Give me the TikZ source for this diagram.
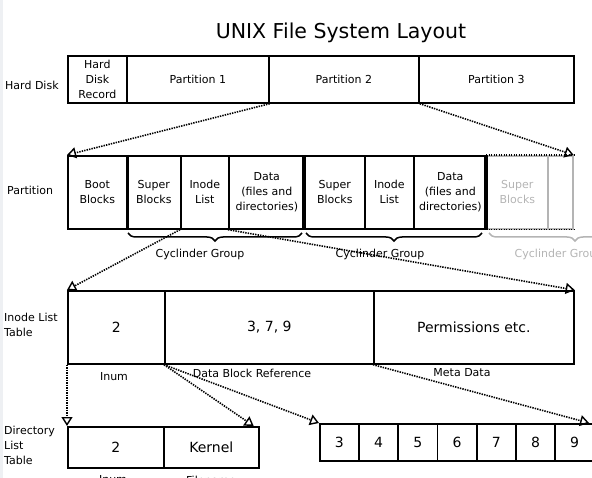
\documentclass[tikz,border=0pt]{standalone}
\usepackage{fontspec}
\setmainfont{DejaVu Sans}
\usepackage{xcolor}
\usepackage{tikz}
\usetikzlibrary{arrows.meta,decorations.pathreplacing}
\definecolor{fadegrey}{HTML}{B4B4B4}
\definecolor{stripgrey}{HTML}{EEF0F3}

\tikzset{
  cell/.style={draw, line width=1.7pt, anchor=north west, inner sep=0pt, align=center,
    font=\fontsize{11}{15}\selectfont},
  bigcell/.style={cell, font=\fontsize{14}{17}\selectfont},
  rowlabel/.style={anchor=west, align=left, inner sep=0pt, font=\fontsize{11}{15}\selectfont},
  sublabel/.style={inner sep=0pt, font=\fontsize{11}{15}\selectfont},
  pointer/.style={line width=1.6pt, dash pattern=on 1.4pt off 1.1pt,
    -{Triangle[open,length=9pt,width=11pt,line width=1.4pt]}},
  groupbrace/.style={decorate, decoration={brace, mirror, amplitude=8pt}, line width=1.5pt}
}

\begin{document}
\begin{tikzpicture}[x=1pt, y=-1pt]
      \useasboundingbox (0,0) rectangle (592,478);
      \fill[stripgrey] (0,0) rectangle (3,478);

      % Title
      \node (title) at (341,33) {\fontsize{20.5}{24}\selectfont UNIX File System Layout};

      % Hard disk row
      \node[rowlabel] (hdlabel) at (5,85) {Hard Disk};
      \node[cell, minimum width=59pt, minimum height=47pt] (hdr) at (67,55) {Hard\\Disk\\Record};
      \node[cell, minimum width=142pt, minimum height=47pt] (p1) at (126,55) {Partition 1};
      \node[cell, minimum width=150pt, minimum height=47pt] (p2) at (268,55) {Partition 2};
      \node[cell, minimum width=155pt, minimum height=47pt] (p3) at (418,55) {Partition 3};

      % Partition row
      \node[rowlabel] (partlabel) at (7,190) {Partition};
      \node[cell, minimum width=59pt, minimum height=73pt] (boot) at (67,155) {Boot\\Blocks};
      \node[cell, minimum width=54pt, minimum height=73pt] (sb1) at (126,155) {Super\\Blocks};
      \node[cell, minimum width=48pt, minimum height=73pt] (il1) at (180,155) {Inode\\List};
      \node[cell, minimum width=76pt, minimum height=73pt] (dat1) at (228,155) {Data\\(files and\\directories)};
      \node[cell, minimum width=60pt, minimum height=73pt] (sb2) at (304,155) {Super\\Blocks};
      \node[cell, minimum width=49pt, minimum height=73pt] (il2) at (364,155) {Inode\\List};
      \node[cell, minimum width=73pt, minimum height=73pt] (dat2) at (413,155) {Data\\(files and\\directories)};
      \node[cell, draw=fadegrey, text=fadegrey, minimum width=61pt, minimum height=73pt] (sb3) at (486,155) {Super\\Blocks};
      \node[cell, draw=fadegrey, minimum width=25pt, minimum height=73pt] (more) at (547,155) {};
      \draw[line width=1.6pt, dash pattern=on 1.4pt off 1.1pt] (sb3.north west) -- (more.north east);
      \draw[line width=1.6pt, dash pattern=on 1.4pt off 1.1pt] (sb3.south west) -- (more.south east);
      \draw[line width=3.2pt] (boot.north east) -- (boot.south east);
      \draw[line width=3.2pt] (sb2.north west) -- (sb2.south west);
      \draw[line width=3.2pt] (sb3.north west) -- (sb3.south west);

      % Cylinder groups
      \draw[groupbrace] (128,233) -- (302,233);
      \draw[groupbrace] (306,233) -- (482,233);
      \draw[groupbrace, draw=fadegrey] (489,233) -- (661,233);
      \node[sublabel] (cg1) at (200,254) {Cyclinder Group};
      \node[sublabel] (cg2) at (380,254) {Cyclinder Group};
      \node[sublabel, text=fadegrey] (cg3) at (559,254) {Cyclinder Group};

      % Inode list table
      \node[rowlabel] (inodelabel) at (4,325) {Inode List\\Table};
      \node[bigcell, minimum width=97pt, minimum height=73pt] (inum) at (67,290) {2};
      \node[bigcell, minimum width=209pt, minimum height=73pt] (dbr) at (164,290) {3, 7, 9};
      \node[bigcell, minimum width=200pt, minimum height=73pt] (meta) at (373,290) {Permissions etc.};
      \node[sublabel] (inumlbl) at (114,377) {Inum};
      \node[sublabel] (dbrlbl) at (252,373) {Data Block Reference};
      \node[sublabel] (metalbl) at (462,373) {Meta Data};

      % Directory list table
      \node[rowlabel] (dirlabel) at (4,445) {Directory\\List\\Table};
      \node[bigcell, minimum width=96pt, minimum height=41pt] (dinum) at (67,426) {2};
      \node[bigcell, minimum width=95pt, minimum height=41pt] (fname) at (163,426) {Kernel};
      \node[sublabel] (dinumlbl) at (113,480) {Inum};
      \node[sublabel] (fnamelbl) at (211,480) {Filename};

      % Data blocks
      \foreach \n [count=\i from 0] in {3,...,9}
        \node[bigcell, minimum width=39.2pt, minimum height=37pt] (b\n) at (319+39.2*\i,423) {\n};

      % Pointers
      \draw[pointer] (p1.south east) -- (boot.north west);
      \draw[pointer] (p2.south east) -- (more.north east);
      \draw[pointer] (il1.south west) -- (inum.north west);
      \draw[pointer] (dat1.south west) -- (meta.north east);
      \draw[pointer] (inum.south west) -- (dinum.north west);
      \draw[pointer] (dbr.south west) -- ([xshift=-6pt]fname.north east);
      \draw[pointer] (dbr.south west) -- (b3.north west);
      \draw[pointer] (meta.south west) -- ([xshift=-6pt]b9.north east);
\end{tikzpicture}
\end{document}
